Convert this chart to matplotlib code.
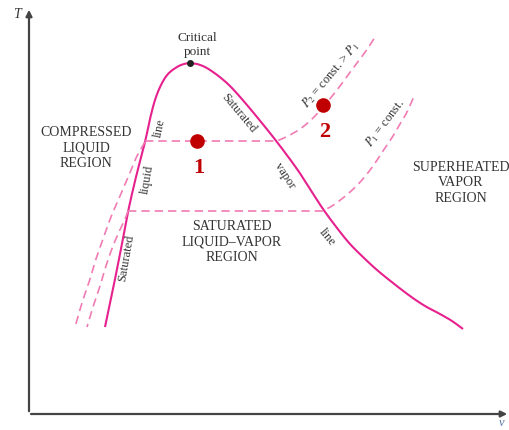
import matplotlib.pyplot as plt
import numpy as np

plt.rcParams['font.family'] = ['Liberation Serif', 'DejaVu Serif']
plt.rcParams['mathtext.fontset'] = 'stix'

# curve points in picture units (x to the right, y downward)
liq_x = [105, 113, 120, 128, 136, 145, 150, 155, 161, 168, 177, 184, 190]
liq_y = [328, 290, 255, 213, 178, 143, 120, 101, 86, 75, 68, 65, 64]
vap_x = [190, 197, 205, 213, 221, 230, 241, 257, 277, 297, 310, 323, 337, 350,
         364, 377, 393, 410, 425, 440, 452, 463]
vap_y = [64, 65, 68, 73, 79, 87, 99, 118, 143, 170, 190, 210, 229, 245,
         259, 271, 284, 297, 307, 315, 322, 330]

p2_x = [145, 277, 288, 300, 312, 323, 333, 343, 351, 360, 368, 375]
p2_y = [142, 142, 137, 130, 120, 108, 96, 83, 72, 60, 49, 38]
p1_x = [128, 323, 335, 350, 362, 373, 383, 393, 400, 407, 415]
p1_y = [212, 212, 205, 193, 181, 167, 152, 137, 125, 113, 95]

cl_outer_x = [145, 137, 129, 120, 111, 103, 96, 90, 82, 75]
cl_outer_y = [143, 157, 176, 197, 218, 240, 260, 280, 304, 328]
cl_inner_x = [128, 125, 119, 113, 106, 100, 93, 87]
cl_inner_y = [212, 220, 233, 247, 267, 287, 308, 328]

crit = (190, 64)
state_x = [197, 323]
state_y = [142, 106]
state_names = ['1', '2']

SOLID = '#e6218e'
DASH = '#f07cb4'
RED = '#c00000'
TXT = '#333333'


def smooth(xs, ys, n=12):
    # Catmull-Rom path through the given points
    p = np.column_stack([xs, ys]).astype(float)
    p = np.vstack([2 * p[0] - p[1], p, 2 * p[-1] - p[-2]])
    out = []
    t = np.linspace(0, 1, n, endpoint=False)[:, None]
    for i in range(1, len(p) - 2):
        p0, p1, p2, p3 = p[i - 1], p[i], p[i + 1], p[i + 2]
        seg = 0.5 * (2 * p1 + (-p0 + p2) * t + (2 * p0 - 5 * p1 + 4 * p2 - p3) * t ** 2
                     + (-p0 + 3 * p1 - 3 * p2 + p3) * t ** 3)
        out.append(seg)
    out.append(p[-2][None, :])
    out = np.vstack(out)
    return out[:, 0], out[:, 1]


fig = plt.figure(figsize=(5.10, 4.31), dpi=100)
ax = fig.add_axes([0, 0, 1, 1])
ax.set_xlim(0, 510)
ax.set_ylim(431, 0)
ax.axis('off')

# axes with arrows
ax.annotate('', xy=(29, 8), xytext=(29, 415),
            arrowprops=dict(arrowstyle='-|>', color='#444444', lw=1.6, mutation_scale=9))
ax.annotate('', xy=(510, 415), xytext=(28.2, 415),
            arrowprops=dict(arrowstyle='-|>', color='#444444', lw=1.6, mutation_scale=9))
ax.text(17, 15, 'T', style='italic', fontsize=10, color=TXT, ha='center', va='center')
ax.text(502, 423, 'v', style='italic', fontsize=9, color='#5577aa', ha='center', va='center')

# saturation dome
ax.plot(*smooth(liq_x, liq_y), color=SOLID, lw=1.5, solid_capstyle='butt')
ax.plot(*smooth(vap_x, vap_y), color=SOLID, lw=1.5, solid_capstyle='butt')

# isobars: straight through the dome, curved outside it
for xs, ys in [(p2_x, p2_y), (p1_x, p1_y)]:
    cx, cy = smooth(xs[1:], ys[1:])
    ax.plot(np.r_[xs[0], cx], np.r_[ys[0], cy], color=DASH, lw=1.2, dashes=(5, 3))
for xs, ys in [(cl_outer_x, cl_outer_y), (cl_inner_x, cl_inner_y)]:
    ax.plot(*smooth(xs, ys), color=DASH, lw=1.2, dashes=(5, 3))

ax.plot(*crit, 'o', color='#222222', ms=4)
ax.text(197, 45, 'Critical\npoint', fontsize=9.5, color=TXT, ha='center', va='center',
        linespacing=1.2)

ax.plot(state_x, state_y, 'o', color=RED, ms=9.5, zorder=5)
for x, y, s in zip(state_x, state_y, state_names):
    ax.text(x + 2, y + 26, s, fontsize=16, fontweight='bold', color=RED,
            ha='center', va='center')

# region labels
reg = dict(fontsize=10, color=TXT, ha='center', va='center', linespacing=1.25)
ax.text(86, 148, 'COMPRESSED\nLIQUID\nREGION', **reg)
ax.text(232, 242, 'SATURATED\nLIQUID–VAPOR\nREGION', **reg)
ax.text(461, 183, 'SUPERHEATED\nVAPOR\nREGION', **reg)

# curve labels
lab = dict(fontsize=9, color=TXT, ha='center', va='center', rotation_mode='anchor')
ax.text(126, 258, 'Saturated', rotation=80, **lab)
ax.text(147, 180, 'liquid', rotation=80, **lab)
ax.text(160, 128, 'line', rotation=78, **lab)
ax.text(239, 113, 'Saturated', rotation=-50, **lab)
ax.text(285, 176, 'vapor', rotation=-57, **lab)
ax.text(327, 237, 'line', rotation=-50, **lab)
ax.text(331, 75, r'$P_2$ = const. > $P_1$', rotation=50, **lab)
ax.text(385, 123, r'$P_1$ = const.', rotation=53, **lab)

fig.savefig('out.png', dpi=100)
